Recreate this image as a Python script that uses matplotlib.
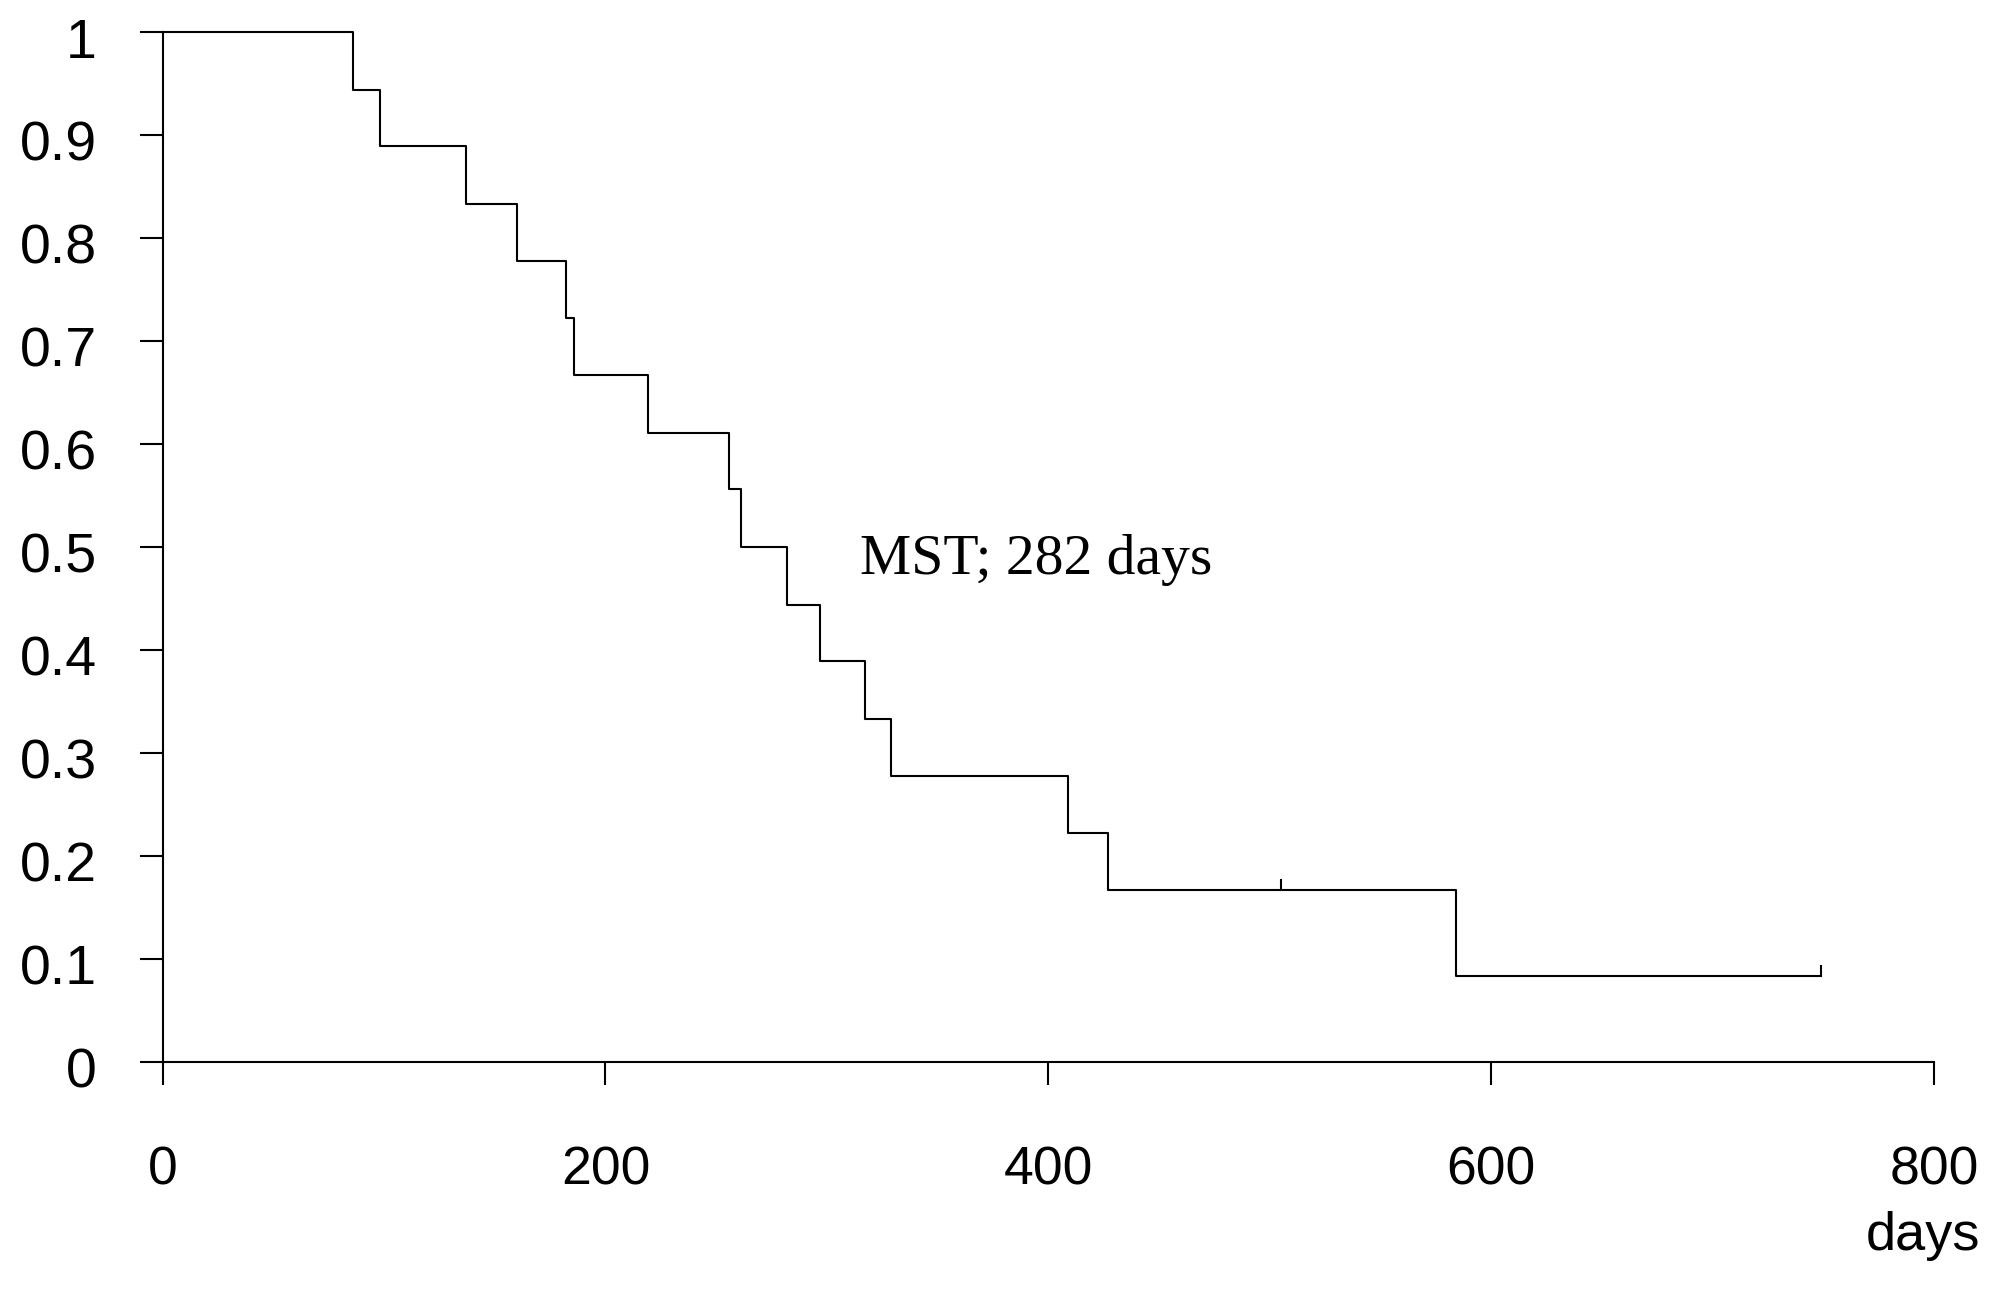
import matplotlib
matplotlib.use('Agg')
import matplotlib.pyplot as plt
from matplotlib.transforms import ScaledTranslation

# Kaplan-Meier curve (days, survival)
event_days = [0, 86, 98, 137, 160, 182, 186, 219, 256, 261, 282, 297, 317, 329, 409, 427, 584, 749]
survival = [1.0, 0.944, 0.889, 0.833, 0.778, 0.722, 0.667, 0.611, 0.556, 0.5,
            0.444, 0.389, 0.333, 0.278, 0.222, 0.167, 0.083, 0.083]

# censored observations
censor_days = [505, 749]
censor_surv = [0.167, 0.083]

xticks = [0, 200, 400, 600, 800]
yticks = [0, 0.1, 0.2, 0.3, 0.4, 0.5, 0.6, 0.7, 0.8, 0.9, 1.0]
ytick_labels = ['0', '0.1', '0.2', '0.3', '0.4', '0.5', '0.6', '0.7', '0.8', '0.9', '1']

annotation = 'MST; 282 days'
x_unit = 'days'

sans = ['Liberation Sans', 'DejaVu Sans']
serif = ['Liberation Serif', 'DejaVu Serif']

fig = plt.figure(figsize=(20.08, 12.93), dpi=100)
ax = fig.add_axes([0.081, 0.1787, 0.8821, 0.7966])

ax.step(event_days, survival, where='post', color='black', lw=1.5, clip_on=False)
ax.vlines(censor_days, censor_surv, [s + 0.011 for s in censor_surv], color='black', lw=1.5)

ax.set_xlim(0, 800)
ax.set_ylim(0, 1)
ax.spines['top'].set_visible(False)
ax.spines['right'].set_visible(False)
ax.spines['left'].set_linewidth(1.5)
ax.spines['bottom'].set_linewidth(1.5)

ax.set_xticks(xticks)
ax.set_yticks(yticks)
ax.set_yticklabels(ytick_labels)
ax.tick_params(axis='both', direction='out', length=16.5, width=1.5)
ax.tick_params(axis='x', pad=44, labelsize=38.5)
ax.tick_params(axis='y', pad=31, labelsize=40)
for lab in ax.get_xticklabels() + ax.get_yticklabels():
    lab.set_family(sans)
# y labels sit slightly below their ticks in the original
shift = ScaledTranslation(0, -0.06, fig.dpi_scale_trans)
for lab in ax.get_yticklabels():
    lab.set_transform(lab.get_transform() + shift)

ax.text(315, 0.474, annotation, fontsize=41.5, family=serif, va='baseline', ha='left')
fig.text(0.986, 0.0333, x_unit, fontsize=39, family=sans, ha='right', va='baseline')

fig.savefig('out.png', dpi=100)
